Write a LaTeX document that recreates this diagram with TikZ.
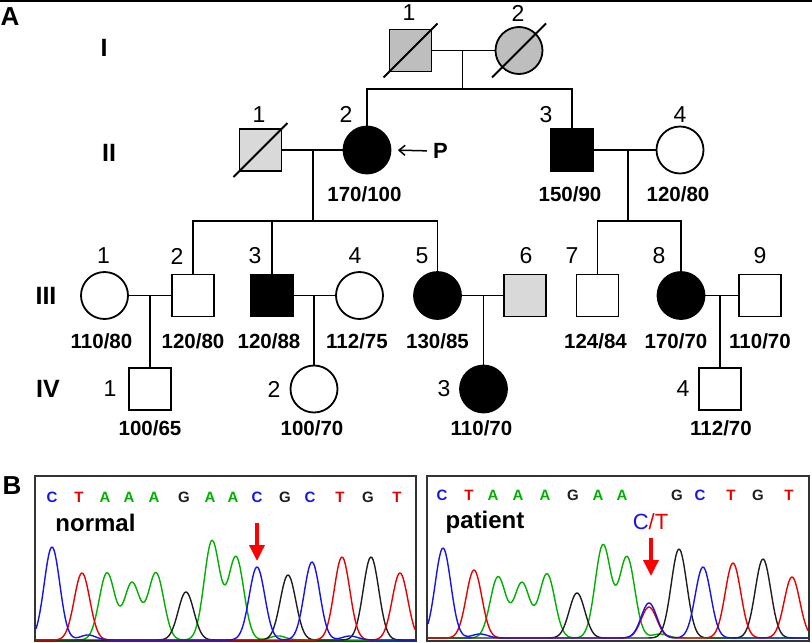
\documentclass[tikz,border=0pt]{standalone}
\usepackage{fontspec}
\setmainfont{Liberation Sans}
\usetikzlibrary{arrows.meta}
\definecolor{dgray}{RGB}{190,190,190}
\definecolor{lgray}{RGB}{217,217,217}
\definecolor{baseC}{RGB}{20,20,235}
\definecolor{baseT}{RGB}{230,0,0}
\definecolor{baseA}{RGB}{0,175,0}
\definecolor{baseG}{RGB}{30,30,30}

\begin{document}
\begin{tikzpicture}[x=1pt,y=1pt,
  declare function={pk(\t,\m,\h)=\h*exp(-min(((\t-\m)/11)^2,9));}]
\tikzset{male/.style={draw, line width=1.8pt, rectangle, minimum size=42pt, inner sep=0pt},
  female/.style={draw, line width=1.8pt, circle, minimum size=47pt, inner sep=0pt},
  rel/.style={line width=1.8pt},
  num/.style={font=\fontsize{23}{23}\selectfont, inner sep=0pt},
  bp/.style={font=\bfseries\fontsize{20.5}{20.5}\selectfont, inner sep=0pt},
  gen/.style={font=\bfseries\fontsize{25}{25}\selectfont, inner sep=0pt},
  seqbase/.style={font=\bfseries\fontsize{15}{15}\selectfont, inner sep=0pt},
  trace/.style={line width=1.4pt, line join=round},
  frame/.style={draw=black!80, line width=1.2pt},
  redarrow/.style={draw=red, line width=3.5pt, -{Triangle[length=16pt,width=15pt]}}}
\useasboundingbox (0,0) rectangle (812,-643);
\draw[line width=1.5pt] (0,-0.75) -- (812,-0.75);
% panel A
\node[gen, font=\bfseries\fontsize{26}{26}\selectfont] (lA) at (10,-17) {A};
\node[gen] (gI) at (104,-48) {I};
\node[gen] (gII) at (109,-153) {II};
\node[gen] (gIII) at (46,-296) {III};
\node[gen] (gIV) at (48,-389) {IV};
\node[male, fill=dgray] (I1) at (410.5,-50.5) {};
\node[female, fill=dgray] (I2) at (519,-50.5) {};
\node[male, fill=lgray] (II1) at (260.5,-150) {};
\node[female, fill=black] (II2) at (367,-150) {};
\node[male, fill=black] (II3) at (572,-150) {};
\node[female] (II4) at (680,-150) {};
\node[female] (III1) at (104.5,-295.5) {};
\node[male] (III2) at (193,-295.5) {};
\node[male, fill=black] (III3) at (272,-295.5) {};
\node[female] (III4) at (359.5,-295.5) {};
\node[female, fill=black] (III5) at (437.5,-295.5) {};
\node[male, fill=lgray] (III6) at (525,-295.5) {};
\node[male] (III7) at (597.5,-295.5) {};
\node[female, fill=black] (III8) at (681,-295.5) {};
\node[male] (III9) at (760,-295.5) {};
\node[male] (IV1) at (150,-389) {};
\node[female] (IV2) at (314,-389) {};
\node[female, fill=black] (IV3) at (483.5,-389) {};
\node[male] (IV4) at (720,-389) {};
\foreach \n in {I1,I2,II1}
  \draw[rel] ([shift={(-27,-27)}]\n.center) -- ([shift={(27,27)}]\n.center);
% couples and sibships
\coordinate (mI) at (462.5,-50.5);
\coordinate (sI) at (462.5,-89);
\draw[rel] (I1) -- (I2);
\draw[rel] (mI) -- (sI);
\draw[rel] (II2.north) |- (sI) -| (II3.north);
\coordinate (mIIa) at (313,-150);
\coordinate (sIIa) at (313,-221);
\draw[rel] (II1) -- (II2);
\draw[rel] (mIIa) -- (sIIa);
\draw[rel] (III2.north) |- (sIIa) -| (III5.north);
\draw[rel] (III3.north) -- (III3.north |- sIIa);
\coordinate (mIIb) at (628,-150);
\coordinate (sIIb) at (628,-221);
\draw[rel] (II3) -- (II4);
\draw[rel] (mIIb) -- (sIIb);
\draw[rel] (III7.north) |- (sIIb) -| (III8.north);
\coordinate (mIIIa) at (150,-295.5);
\coordinate (mIIIb) at (314,-295.5);
\coordinate (mIIIc) at (483.5,-295.5);
\coordinate (mIIId) at (720,-295.5);
\draw[rel] (III1) -- (III2);
\draw[rel] (mIIIa) -- (IV1.north);
\draw[rel] (III3) -- (III4);
\draw[rel] (mIIIb) -- (IV2.north);
\draw[rel] (III5) -- (III6);
\draw[rel] (mIIIc) -- (IV3.north);
\draw[rel] (III8) -- (III9);
\draw[rel] (mIIId) -- (IV4.north);
% numbers
\foreach \n/\t/\x/\y in {I1/1/409/13, I2/2/518/13, II1/1/259/114.5, II2/2/346/114.5,
    II3/3/546/114.5, II4/4/680/114.5, III1/1/103.5/256, III2/2/177/256, III3/3/255/256,
    III4/4/355/256, III5/5/422/256, III6/6/526/256, III7/7/572/256, III8/8/659/256,
    III9/9/760/256, IV1/1/110/389, IV2/2/274/389, IV3/3/444/389, IV4/4/683/389}
  \node[num] (n\n) at (\x,-\y) {\t};
% blood pressure
\foreach \n/\t/\x/\y in {II2/170\slash 100/364.5/194.5, II3/150\slash 90/570/194.5, II4/120\slash 80/678/194.5,
    III1/110\slash 80/101.5/341.5, III2/120\slash 80/193/341.5, III3/120\slash 88/269/341.5,
    III4/112\slash 75/357/341.5, III5/130\slash 85/437.5/341.5, III7/124\slash 84/595.5/341.5,
    III8/170\slash 70/676/341.5, III9/110\slash 70/760/341.5, IV1/100\slash 65/150/428,
    IV2/100\slash 70/312/428, IV3/110\slash 70/481.5/428, IV4/112\slash 70/721/428}
  \node[bp] (bp\n) at (\x,-\y) {\t};
\node[bp, font=\bfseries\fontsize{22}{22}\selectfont] (P) at (440.5,-151) {P};
\draw[line width=1.5pt, -{Straight Barb[length=6pt,width=10pt]}, shorten <=6pt, shorten >=6.5pt]
  (P.west) -- (II2.east);
% panel B
\node[gen, font=\bfseries\fontsize{26}{26}\selectfont] (lB) at (12,-486) {B};
\draw[frame] (35,-476) rectangle (416,-641);
\draw[frame] (427,-476) rectangle (809,-641);
\foreach \x/\b [count=\i] in {52/C, 79/T, 105/A, 129/A, 154/A, 184/G, 210/A, 233/A,
    257/C, 285/G, 310/C, 340/T, 368/G, 397/T}
  \node[seqbase, text=base\b] (nb\i) at (\x,-497) {\b};
\foreach \x/\b [count=\i] in {442/C, 469/T, 493/A, 518/A, 545/A, 573/G, 598/A, 622/A,
    677/G, 700/C, 731/T, 758/G, 789/T}
  \node[seqbase, text=base\b] (pb\i) at (\x,-495) {\b};
\node[gen, font=\bfseries\fontsize{24}{24}\selectfont] (tnormal) at (95.5,-523) {normal};
\node[gen, font=\bfseries\fontsize{24}{24}\selectfont] (tpatient) at (485,-522) {patient};
\node[inner sep=0pt, font=\fontsize{22}{22}\selectfont] (tCT) at (650.5,-522)
  {\textcolor{baseC}{C}\textcolor{baseT}{/T}};
% traces, normal
\draw[trace, baseA] plot[domain=36:415, samples=300] (\x, {-640+pk(\x,107,67)+pk(\x,132,57)+pk(\x,156,67)+pk(\x,212,99)+pk(\x,236,83)+pk(\x,278,4)});
\draw[trace, baseG] plot[domain=36:415, samples=300] (\x, {-640+pk(\x,186,48)+pk(\x,288,65)+pk(\x,371,83)});
\draw[trace, baseT] plot[domain=36:415, samples=300] (\x, {-640+pk(\x,82,67)+pk(\x,342,83)+pk(\x,400,67)});
\draw[trace, baseC] plot[domain=36:415, samples=300] (\x, {-640+pk(\x,52,93)+pk(\x,257,73)+pk(\x,312,78)+pk(\x,88,5)+pk(\x,350,4)});
% traces, patient
\draw[trace, baseA] plot[domain=428:808, samples=300] (\x, {-638+pk(\x,498,61)+pk(\x,522,55)+pk(\x,547,64)+pk(\x,603,93)+pk(\x,627,81)+pk(\x,660,4)});
\draw[trace, baseG] plot[domain=428:808, samples=300] (\x, {-638+pk(\x,577,45)+pk(\x,679,89)+pk(\x,763,79)});
\draw[trace, baseT] plot[domain=428:808, samples=300] (\x, {-638+pk(\x,474,68)+pk(\x,649,31)+pk(\x,733,75)+pk(\x,792,61)});
\draw[trace, baseC] plot[domain=428:808, samples=300] (\x, {-638+pk(\x,443,90)+pk(\x,649,35)+pk(\x,703,71)+pk(\x,480,4)});
% arrows at the site
\coordinate (ra1) at (257,-523);
\coordinate (rb1) at (257,-561);
\coordinate (ra2) at (651,-538);
\coordinate (rb2) at (651,-576);
\draw[redarrow] (ra1) -- (rb1);
\draw[redarrow] (ra2) -- (rb2);
\end{tikzpicture}
\end{document}
